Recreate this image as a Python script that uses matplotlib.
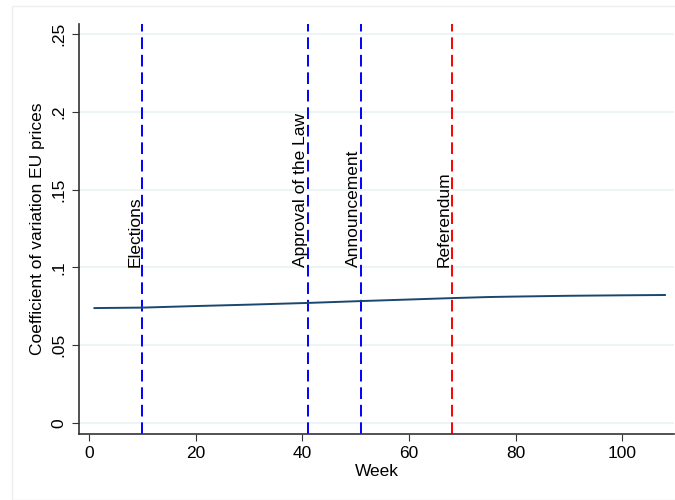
import matplotlib.pyplot as plt
from matplotlib.patches import Rectangle

plt.rcParams['font.family'] = ['Liberation Sans', 'DejaVu Sans']

# smoothed coefficient of variation by week
weeks = [1, 10, 20, 30, 41, 51, 60, 68, 75, 80, 90, 100, 108]
cv = [0.0739, 0.0742, 0.0752, 0.0761, 0.0772, 0.0784, 0.0794, 0.0803, 0.0810, 0.0813, 0.0818, 0.0821, 0.0823]

# events marked on the timeline
event_weeks = [10, 41, 51, 68]
event_names = ["Elections", "Approval of the Law", "Announcement", "Referendum"]
event_colors = ["#0000ff", "#0000ff", "#0000ff", "#ff0000"]

yticks = [0, 0.05, 0.1, 0.15, 0.2, 0.25]
ytick_labels = ["0", ".05", ".1", ".15", ".2", ".25"]
xticks = [0, 20, 40, 60, 80, 100]

fs = 12.5

fig = plt.figure(figsize=(6.75, 5), dpi=100)
fig.patches.append(Rectangle((12 / 675, 0), 1, 494 / 500, transform=fig.transFigure,
                             fill=False, edgecolor="#eeeeee", linewidth=1))
ax = fig.add_axes([79 / 675, 66 / 500, 595 / 675, 410 / 500])

for y in yticks:
    ax.axhline(y, color="#eaf2f3", linewidth=1.2, zorder=0)

ax.plot(weeks, cv, color="#1a476f", linewidth=1.4, zorder=3)

for w, name, c in zip(event_weeks, event_names, event_colors):
    ax.axvline(w, color=c, linestyle=(0, (6, 3)), linewidth=1.4, zorder=2)
    ax.text(w, 0.1, name, rotation=90, ha="right", va="bottom", fontsize=fs)

ax.set_xlim(-1.9, 109.7)
ax.set_ylim(-0.007, 0.2564)
ax.set_xticks(xticks)
ax.set_yticks(yticks)
ax.set_yticklabels(ytick_labels, rotation=90, va="center")
ax.tick_params(axis="both", labelsize=fs, length=5, color="#333333", direction="out")
ax.tick_params(axis="y", pad=4)
ax.set_xlabel("Week", fontsize=fs, labelpad=2.5)
ax.set_ylabel("Coefficient of variation EU prices", fontsize=fs, labelpad=5)

for side in ["top", "right"]:
    ax.spines[side].set_visible(False)
for side in ["left", "bottom"]:
    ax.spines[side].set_color("#333333")
    ax.spines[side].set_linewidth(1.2)

fig.savefig("out.png", dpi=100)
